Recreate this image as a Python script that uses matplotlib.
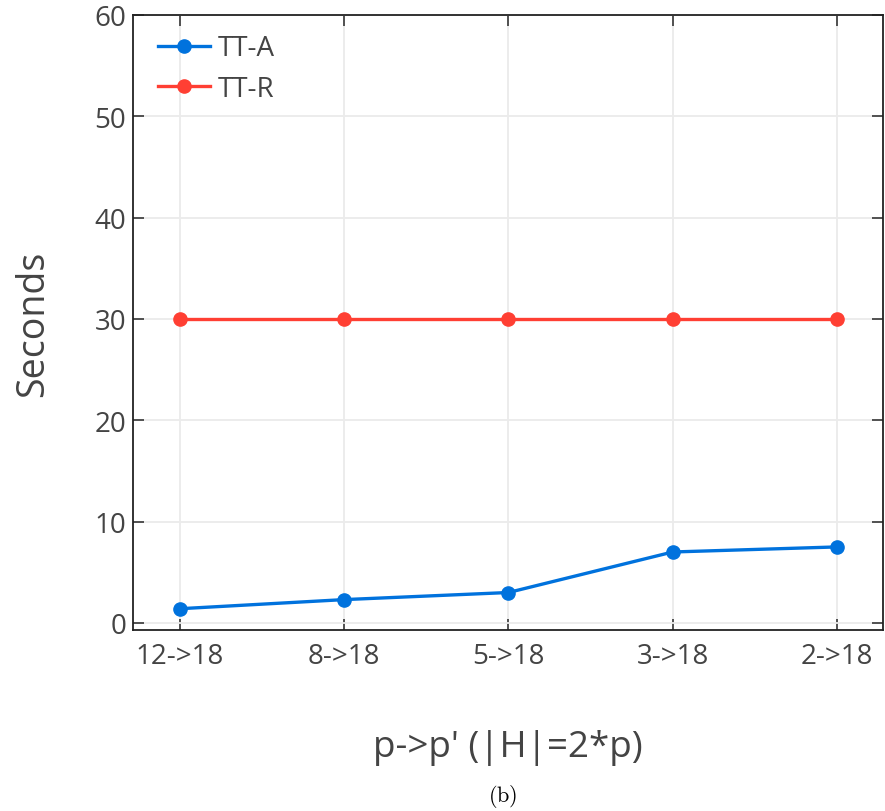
import matplotlib
matplotlib.use("Agg")
import matplotlib.pyplot as plt

categories = ["12->18", "8->18", "5->18", "3->18", "2->18"]
tt_a = [1.4, 2.3, 3.0, 7.0, 7.5]
tt_r = [30, 30, 30, 30, 30]
y_ticks = [0, 10, 20, 30, 40, 50, 60]

plt.rcParams["font.family"] = ["Open Sans", "DejaVu Sans"]
text_color = "#444444"

fig = plt.figure(figsize=(8.85, 8.12), dpi=100)
ax = fig.add_axes([133 / 885, 1 - 631 / 812, 750 / 885, 615 / 812])

x = list(range(len(categories)))
ax.plot(x, tt_a, color="#0072DD", lw=2.4, marker="o", ms=9.5, label="TT-A", zorder=3)
ax.plot(x, tt_r, color="#FF3F33", lw=2.4, marker="o", ms=9.5, label="TT-R", zorder=3)

ax.set_xlim(-0.285, 4.28)
ax.set_ylim(-0.7, 60)
ax.set_xticks(x)
ax.set_xticklabels(categories)
ax.set_yticks(y_ticks)

ax.grid(True, color="#ebebeb", lw=1.3)
ax.set_axisbelow(True)
for s in ax.spines.values():
    s.set_color("#222222")
    s.set_linewidth(1.3)

ax.tick_params(axis="both", direction="in", length=8, width=1.3, color="#444444",
               top=True, right=True, labelsize=20, labelcolor=text_color)
ax.tick_params(axis="x", pad=9)
ax.tick_params(axis="y", pad=5)

ax.set_ylabel("Seconds", fontsize=27, color=text_color, labelpad=30)
ax.set_xlabel("p->p' (|H|=2*p)", fontsize=26.5, color=text_color, labelpad=42)

leg = ax.legend(loc="upper left", frameon=False, fontsize=20, handlelength=1.85,
                borderaxespad=0.3, labelspacing=0.45, handletextpad=0.3,
                bbox_to_anchor=(0.008, 1.0))
for t in leg.get_texts():
    t.set_color(text_color)

fig.text(503 / 885, 1 - 797 / 812, r"$\mathrm{(b)}$", ha="center", va="center",
         fontsize=16, color="black", math_fontfamily="cm")

fig.savefig("out.png", dpi=100)
